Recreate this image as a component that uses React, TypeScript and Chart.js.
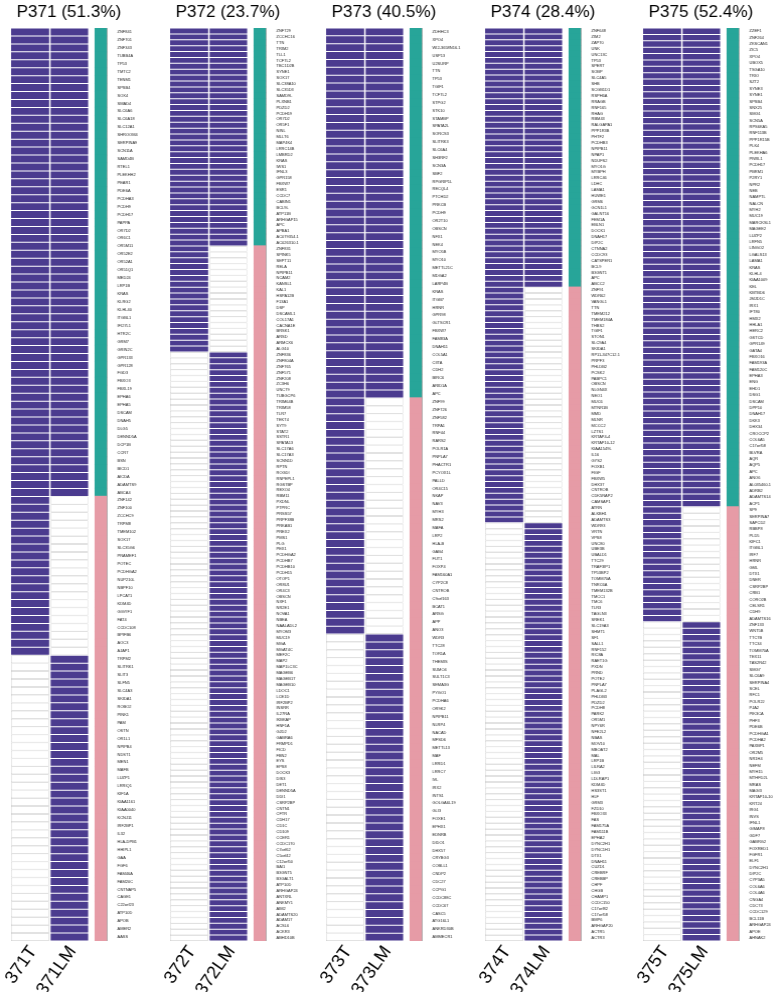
import React, { useEffect, useRef } from 'react';
import { Chart, registerables } from 'chart.js';
Chart.register(...registerables);

// ---------------- DATA ----------------
const P371_SHARED = ['ZNF841','ZNF701','ZNF343','TUBB4A','TP53','TMTC2','TENM1','SPSB4','SOX4','SMAD4','SLC6A6','SLC6A18','SLC12A1','SHROOM4','SERPINA9','SCN11A','SAMD4B','RTEL1','PLEKHH2','PEAR1','PDE6A','PCDHA3','PCDH9','PCDH17','PAPPA','OR7D2','OR6C1','OR5M11','OR52E2','OR52A1','OR51Q1','MED24','LRP1B','KRAS','KLRG2','KLHL40','ITGBL1','IFI27L1','HTR2C','GRM7','GRIN2C','GPR133','GPR128','FGD3','FBXO3','FBXL19','EPHA6','EPHA5','DSCAM','DNAH5','DLG5','DENND5A','DCP1B','CCR7','BSN','BICD1','AICDA','ADAMTS9','ABCA4'];
const P371_T_ONLY = ['ZNF142','ZNF100','ZCCHC9','TRPM8','TMEM102','SOX17','SLC35G6','PRAMEF1','POTEC','PCDHGA2','NUP210L','NBPF10','LPCAT1','KDM4D','GIGYF1','FAT4','CCDC108','BPIFB6','AOC3','AJAP1'];
const P371_LM_ONLY = ['TRPM2','SLITRK1','SLIT3','SLFN5','SLC4A3','SKIDA1','ROBO2','PINK1','PAM','OSTN','OR1L1','NPIPB4','NDST1','MEN1','MAFB','LUZP1','LRRIQ1','KIF1A','KIAA1161','KIAA0040','KCNJ11','IRF2BP1','IL32','HLA-DPB1','HHIPL1','GAA','FGF6','FAM46A','FAM20C','CNTNAP5','CAGE1','C22orf23','ATP10D','APOB','AMER2','AASS'];

const P372_SHARED = ['ZNF729','ZCCHC16','TTN','TRIM2','TLL1','TCF7L2','TBC1D2B','SYNE1','SOX17','SLC38A10','SLC35D3','SAMD9L','PLXNB1','PDZD2','PCDH19','OR7D2','OR5F1','NINL','MLLT6','MAP4K4','LRRC14B','LMBRD2','KRAS','IWS1','IFNL3','GPR158','FBXW7','ESR1','CCDC7','CABIN1','BCL9L','ATP11B','ARHGAP15','APC','APBA1','AC079354.1','AC026310.1'];
const P372_T_ONLY = ['ZNF831','SPINK5','SEPT11','RELA','NPIPB11','NCAM2','KANSL1','KAL1','HSPA12B','F13A1','DSP','DSCAML1','COL17A1','CACNA1E','BRSK1','ARSD','ARMCX6','ALG10'];
const P372_LM_ONLY = ['ZNF836','ZNF804A','ZNF765','ZNF571','ZNF208','ZC3H6','UNC79','TUBGCP6','TRIM64B','TRIM58','TLR7','TEKT4','SYT9','STAT2','SSTR1','SPATA13','SLC17A6','SLC17A3','SCNN1D','RPTN','ROGDI','RNPEPL1','RGS7BP','REXO4','RBM11','PXDNL','PTPRC','PRSS57','PRPF38B','PRKAB1','PREX2','PMS1','PLG','PEX1','PCDHGA2','PCDHB7','PCDHB10','PCDH15','OTOP1','OR8U1','OR4C3','OBSCN','NXF1','NR2E1','NOVA1','NBEA','NAALADL2','MYOM3','MUC19','MGA','MGAT4C','MEF2C','MAP2','MAP1LC3C','MAGEB6','MAGEB17','MAGEB10','LDOC1','LCE1D','IRF2BP2','INSRR','IL27RA','IKBKAP','HNF1A','GJD2','GABRA6','FRMPD1','FICD','FBN2','EYS','EPS8','DOCK3','DIS3','DET1','DENND5A','DDI1','CSRP2BP','CNTN1','CFTR','CDH17','CD1C','CD109','CCER1','CCDC170','C7orf62','C5orf42','C12orf50','BAI1','B3GNT5','B3GALT1','ATP10D','ARHGAP24','ANTXRL','ANKMY1','AIM2','ADAMTS20','ADAM17','ACSL6','ACKR3','ABHD10B'];

const P373_SHARED = ['ZDHHC3','XPO4','WI2-3658N16.1','USP13','U2SURP','TTN','TP53','TGIF1','TCF7L2','STPG2','STK10','STAMBP','SPATA2L','SORCS3','SLITRK3','SLC6A4','SH3RF2','SCN3A','SBF2','RPGRIP1L','RECQL4','PTCHD2','PRKCB','PCDH9','OR2T10','OBSCN','NFX1','NEK4','MYO5B','MYO10','METTL21C','MDGA2','LARP4B','KRAS','ITGB7','HRNR','GPR98','GLTSCR1','FBXW7','FAM83A','DNAH11','COL5A1','CIITA','CDH2','BIRC6','ARID1A','APC'];
const P373_T_ONLY = ['ZNF99','ZNF726','ZNF582','TRPA1','RNF44','RARS2','POLR1A','PNPLA7','PHACTR1','PCYOX1L','PALLD','OR4C15','NKAP','NAV3','MYH3','MRS2','MAFA','LRP2','HLA-B','GAB4','FUT1','FOXP4','FAM160A1','CYP2C8','CNTROB','C9orf163','BCAT1','ARSG','APP','ANO3'];
const P373_LM_ONLY = ['WDR3','TTC28','TOR1A','THEMIS','SUMO4','SULT1C3','SEMA3G','PYGO1','PCDHA6','OR9K2','NPIPB11','NLRP4','NACAD','MFSD6','METTL13','MAF','LRRD1','LRRC7','IVL','IRX2','INTS1','GOLGA6L19','GLI3','FOXE1','EPHX1','EDNRB','DIDO1','DHX57','CRYBG3','COBLL1','CNDP2','CDC27','CCPG1','CCDC88C','CCDC67','CASC5','ATG16L1','ANKRD30B','AMMECR1'];

const P374_SHARED = ['ZNF648','ZIM2','ZAP70','UNK','UNC13C','TP53','SPERT','SOBP','SLC4A5','SHB','SCGB1D1','RSPH6A','RRAGB','RNF165','RHAG','RBM43','RALGAPA1','PPP1R3B','PHTF2','PCDHB3','NPIPB11','NPAP1','NDUFS2','MYO1G','MYBPH','LRRC46','LDHC','LAMA1','HUWE1','GRM6','GCN1L1','GALNT16','FEM1A','EBLN1','DOCK1','DNAH17','DIP2C','CTNNA2','CCDC93','CATSPER1','BCL9','B3GNT1','APC','ABCC2'];
const P374_T_ONLY = ['ZNF91','WDR62','VANGL1','TTN','TMEM212','TMEM184A','THBS2','TGIF1','STON1','SLC9A4','SKIDA1','RP11-347C12.1','PRPF3','PHLDB2','PCSK2','PABPC1','OBSCN','NLGN4X','NEO1','MUC6','MTNR1B','MMD','MLNR','MCCC2','LZTS1','KRTAP4-4','KRTAP10-12','KIAA1549L','IL16','GYS2','FOXB1','FIGF','FBXW5','DHX37','CNTROB','CDK5RAP2','CAMSAP1','ATRN','ALKBH1','ADAMTS3'];
const P374_LM_ONLY = ['WDR93','VRTN','VPS8','UNC80','UBE3B','UBALD1','TTC29','TRAF3IP1','TP53BP2','TOMM70A','TNRC6A','TMEM132B','TMCC1','TMC6','TLR3','TAGLN3','SREK1','SLC19A3','SHMT1','SF1','SALL1','RNF152','RIC8A','RAET1G','PXDN','PRND','POTEJ','PNPLA7','PLAGL2','PHLDB3','PDZD2','PCDH8','PARK2','OR5M1','NPY6R','NFE2L2','NBAS','MOV10','MBOAT2','MAL','LRP1B','LILRA2','LIG3','LDLRAP1','KDM4D','HS3ST1','HLF','GRM3','FZD10','FBXO33','FAS','FAM175A','FAM111B','EPHA2','DYNC2H1','DYNC1H1','DTX1','DNAH11','CUZD1','CREBRF','CREBBP','CHPF','CHGB','CHAMP1','CCDC150','C17orf82','C17orf58','BMP6','ARHGAP20','ACTR5','ACTR3'];

const P375_SHARED = ['ZZEF1','ZNF264','ZKSCAN1','ZIC5','XPO4','UBOX5','TSGA10','TRIO','SZT2','SYNE3','SYNE1','SPSB4','SNX25','SMG1','SCN5A','RPS6KA5','RNF113B','PPP1R15B','PLK4','PLEKHA6','PIWIL1','PCDH17','PBRM1','P2RY1','NPR2','NEB','NAMPTL','NALCN','MYH2','MUC19','MARCKSL1','MAGEE2','LUZP2','LRFN5','LINGO2','LGALS13','LAMA1','KRAS','KLHL4','KIAA1009','KEL','KBTBD6','JMJD1C','IRX1','IFT80','HMX2','HHLA1','HERC2','GSTCD','GPR149','GATA4','FBXO16','FAM193A','FAM120C','EPHA3','ENG','EHD1','DSG1','DSCAM','DPP10','DNAH17','DKK3','DHX34','CROCCP2','COL6A5','C17orf58','BLVRA','AQR','AQP5','APC','ANO6','AL035460.1','ADRB2','ADAMTS14','ACP1'];
const P375_T_ONLY = ['SP9','SERPINA7','SAPCD2','RBBP8','PLD5','KIFC1','ITGBL1','IRF7','HRNR','GML','DTX1','DNER','CSRP2BP','CRB1','CORO2B','CELSR1','CDH9','ADAMTS16'];
const P375_LM_ONLY = ['ZNF133','WNT5B','TTC7B','TTC34','TOMM70A','TEX11','TAS2R42','SMG7','SLC6A9','SERPINA4','SCEL','RFC1','POLR2J','PJA2','PIK3CA','PHF3','PDE6B','PCDHGA1','PCDHA2','PAXBP1','OR2M5','NR1H4','NEFM','MYH15','MTHFD2L','MRAS','MAGI3','KRTAP10-10','KRT24','IRG1','INVS','IFNL1','GIMAP8','GDF7','GABRG2','FOXRED1','FGFR1','ELF1','DYNC2H1','DIP2C','CYP3A5','COL6A6','COL4A6','CNGA4','CDC73','CCDC129','BCL11B','ARHGAP24','APOE','AHNAK2'];

const TITLES = ['P371 (51.3%)', 'P372 (23.7%)', 'P373 (40.5%)', 'P374 (28.4%)', 'P375 (52.4%)'];
const T_LABELS = ['371T', '372T', '373T', '374T', '375T'];
const LM_LABELS = ['371LM', '372LM', '373LM', '374LM', '375LM'];

const PANELS = [
  { shared: P371_SHARED, tOnly: P371_T_ONLY, lmOnly: P371_LM_ONLY },
  { shared: P372_SHARED, tOnly: P372_T_ONLY, lmOnly: P372_LM_ONLY },
  { shared: P373_SHARED, tOnly: P373_T_ONLY, lmOnly: P373_LM_ONLY },
  { shared: P374_SHARED, tOnly: P374_T_ONLY, lmOnly: P374_LM_ONLY },
  { shared: P375_SHARED, tOnly: P375_T_ONLY, lmOnly: P375_LM_ONLY },
];

// ---------------- LAYOUT / STYLE ----------------
const COL_LEFTS = [11, 170, 326, 485, 643];
const ROW_TOP = 28;
const ROW_BOTTOM = 941;
const PAGE_W = 775;
const PAGE_H = 992;
const PAD_L = 20;
// x units = pixel offsets from a panel's left column edge
const T_RANGE = [0, 38];
const LM_RANGE = [39.5, 77];
const SIDE_RANGE = [84, 95];
const EDGE_RANGE = [95, 96.5];
const X_MAX = 96.5;
const Y_W = 60;
const CANVAS_W = PAD_L + X_MAX + Y_W;
const LABEL_GAP = 9.5;
const TICK_SHIFT = 3;
const TITLE_DX = 57.5;
const TITLE_Y = 12.5;

const PURPLE = '#4b3b8f';
const TEAL = '#27a599';
const PINK = '#e69ba6';
const EDGE = '#a9a9a9';
const WHITE_BORDER = '#cdcdcd';
const FONT = "'Liberation Sans', Arial, sans-serif";

const panelTitle = {
  id: 'panelTitle',
  afterDraw(chart: any, _args: any, opts: any) {
    const { ctx, chartArea } = chart;
    ctx.save();
    ctx.font = `17px ${FONT}`;
    ctx.fillStyle = '#000';
    ctx.textAlign = 'center';
    ctx.textBaseline = 'middle';
    ctx.fillText(opts.text, chartArea.left + TITLE_DX, TITLE_Y);
    ctx.restore();
  },
};

function Panel({ idx }: { idx: number }) {
  const ref = useRef<HTMLCanvasElement | null>(null);
  useEffect(() => {
    const p = PANELS[idx];
    const genes = [...p.shared, ...p.tOnly, ...p.lmOnly];
    const nS = p.shared.length;
    const nT = p.tOnly.length;
    const n = genes.length;
    const rowH = (ROW_BOTTOM - ROW_TOP) / n;
    const gapPct = Math.max(0.5, (rowH - 1) / rowH);
    const inT = (i: number) => i < nS + nT;
    const inLM = (i: number) => i < nS || i >= nS + nT;

    const common = { grouped: false, categoryPercentage: 1, borderSkipped: false as const };
    const chart = new Chart(ref.current as HTMLCanvasElement, {
      type: 'bar',
      data: {
        labels: genes,
        datasets: [
          { ...common, label: 'T mutated', data: genes.map((_, i) => (inT(i) ? T_RANGE : null)) as any, backgroundColor: PURPLE, barPercentage: gapPct, borderWidth: 0, inflateAmount: 0 },
          { ...common, label: 'T wild', data: genes.map((_, i) => (!inT(i) ? T_RANGE : null)) as any, backgroundColor: '#ffffff', borderColor: WHITE_BORDER, borderWidth: 0.7, barPercentage: 1, inflateAmount: 0 },
          { ...common, label: 'LM mutated', data: genes.map((_, i) => (inLM(i) ? LM_RANGE : null)) as any, backgroundColor: PURPLE, barPercentage: gapPct, borderWidth: 0, inflateAmount: 0 },
          { ...common, label: 'LM wild', data: genes.map((_, i) => (!inLM(i) ? LM_RANGE : null)) as any, backgroundColor: '#ffffff', borderColor: WHITE_BORDER, borderWidth: 0.7, barPercentage: 1, inflateAmount: 0 },
          { ...common, label: 'class', data: genes.map(() => SIDE_RANGE) as any, backgroundColor: genes.map((_, i) => (i < nS ? TEAL : PINK)), barPercentage: 1, borderWidth: 0, inflateAmount: 0.6 },
          { ...common, label: 'edge', data: genes.map(() => EDGE_RANGE) as any, backgroundColor: EDGE, barPercentage: 1, borderWidth: 0, inflateAmount: 0.6 },
        ],
      },
      plugins: [panelTitle],
      options: {
        indexAxis: 'y',
        responsive: false,
        animation: false,
        events: [],
        layout: { padding: { left: PAD_L, right: 0, top: ROW_TOP, bottom: 0 } },
        plugins: {
          legend: { display: false },
          tooltip: { enabled: false },
          title: { display: false },
          panelTitle: { text: TITLES[idx] },
        },
        scales: {
          x: {
            type: 'linear',
            min: 0,
            max: X_MAX,
            grid: { display: false, drawTicks: false },
            border: { display: false },
            afterBuildTicks: (s: any) => {
              s.ticks = [
                { value: (T_RANGE[0] + T_RANGE[1]) / 2 + TICK_SHIFT },
                { value: (LM_RANGE[0] + LM_RANGE[1]) / 2 + TICK_SHIFT },
              ];
            },
            afterFit: (s: any) => {
              s.height = PAGE_H - ROW_BOTTOM;
              s.paddingLeft = 0;
              s.paddingRight = 0;
            },
            ticks: {
              autoSkip: false,
              minRotation: 55,
              maxRotation: 55,
              padding: 1,
              color: '#000',
              font: { family: FONT, size: 18 },
              callback: (_v: any, i: number) => (i === 0 ? T_LABELS[idx] : LM_LABELS[idx]),
            },
          },
          y: {
            type: 'category',
            position: 'right',
            offset: true,
            grid: { display: false, drawTicks: false },
            border: { display: false },
            afterFit: (s: any) => {
              s.width = Y_W;
              s.paddingTop = 0;
              s.paddingBottom = 0;
            },
            ticks: {
              autoSkip: false,
              padding: LABEL_GAP,
              color: '#222',
              font: { family: FONT, size: 4 },
            },
          },
        },
      } as any,
    });
    return () => chart.destroy();
  }, [idx]);

  return (
    <canvas
      ref={ref}
      width={CANVAS_W}
      height={PAGE_H}
      style={{ position: 'absolute', left: COL_LEFTS[idx] - PAD_L, top: 0, width: CANVAS_W, height: PAGE_H }}
    />
  );
}

export default function App() {
  return (
    <div style={{ position: 'absolute', left: 0, top: 0, width: PAGE_W, height: PAGE_H, overflow: 'hidden', background: '#fff' }}>
      {PANELS.map((_, i) => (
        <Panel key={i} idx={i} />
      ))}
    </div>
  );
}
